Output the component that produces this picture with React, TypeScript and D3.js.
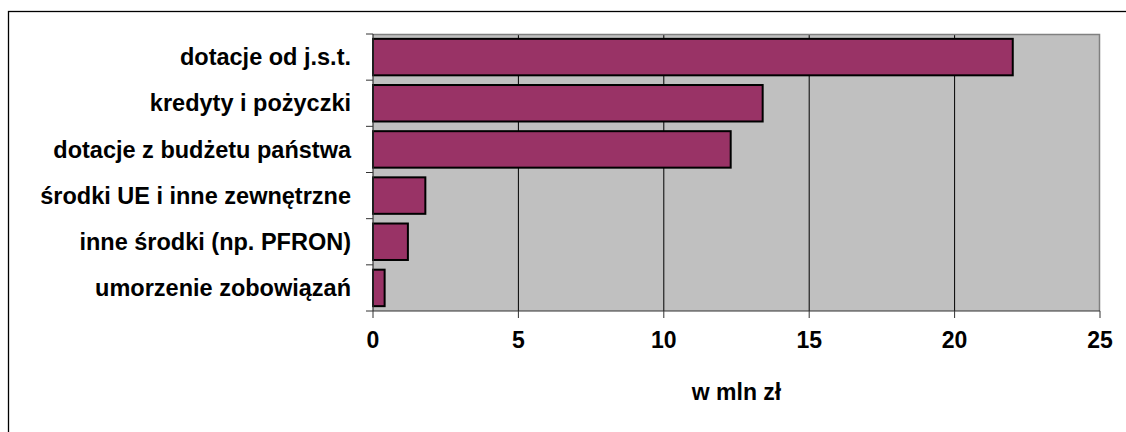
import * as d3 from 'd3'

const categories = [
  'dotacje od j.s.t.',
  'kredyty i pożyczki',
  'dotacje z budżetu państwa',
  'środki UE i inne zewnętrzne',
  'inne środki (np. PFRON)',
  'umorzenie zobowiązań',
]
const values = [22.0, 13.4, 12.3, 1.8, 1.2, 0.4]
const xTicks = [0, 5, 10, 15, 20, 25]

export default function App() {
  const width = 1126
  const height = 432
  const plot = { left: 373, right: 1100, top: 34, bottom: 311 }

  const x = d3.scaleLinear().domain([0, 25]).range([plot.left, plot.right])
  const y = d3
    .scaleBand()
    .domain(categories)
    .range([plot.top, plot.bottom])
    .paddingInner(0.21)
    .paddingOuter(0.105)
  const band = (plot.bottom - plot.top) / categories.length
  const font = '"Liberation Sans", Arial, sans-serif'

  return (
    <svg
      width={width}
      height={height}
      style={{ position: 'absolute', left: 0, top: 0, background: '#fff' }}
    >
      <rect x={8.5} y={11.5} width={1200} height={500} fill="#fff" stroke="#000" strokeWidth={1.3} />
      <rect
        x={plot.left}
        y={plot.top}
        width={plot.right - plot.left}
        height={plot.bottom - plot.top}
        fill="#c0c0c0"
      />
      {xTicks.slice(1, -1).map((t) => (
        <line key={t} x1={x(t)} x2={x(t)} y1={plot.top} y2={plot.bottom} stroke="#000" strokeWidth={1} />
      ))}
      <path
        d={`M${plot.left},${plot.top + 0.5}H${plot.right - 0.5}V${plot.bottom}`}
        fill="none"
        stroke="#808080"
        strokeWidth={1.5}
      />
      {categories.map((c, i) => (
        <rect
          key={c}
          x={x(0)}
          y={y(c)!}
          width={x(values[i]) - x(0)}
          height={y.bandwidth()}
          fill="#993366"
          stroke="#000"
          strokeWidth={2}
        />
      ))}
      {/* axes */}
      <line x1={plot.left} x2={plot.left} y1={plot.top} y2={plot.bottom} stroke="#333" strokeWidth={1.2} />
      <line x1={plot.left} x2={plot.right} y1={plot.bottom} y2={plot.bottom} stroke="#333" strokeWidth={1.2} />
      {d3.range(categories.length + 1).map((i) => (
        <line
          key={i}
          x1={plot.left - 7}
          x2={plot.left}
          y1={plot.top + i * band}
          y2={plot.top + i * band}
          stroke="#333"
          strokeWidth={1}
        />
      ))}
      {xTicks.map((t) => (
        <g key={t}>
          <line x1={x(t)} x2={x(t)} y1={plot.bottom} y2={plot.bottom + 7} stroke="#333" strokeWidth={1} />
          <text
            x={x(t)}
            y={340}
            dy="0.35em"
            textAnchor="middle"
            fontFamily={font}
            fontWeight="bold"
            fontSize={23}
            fill="#000"
          >
            {t}
          </text>
        </g>
      ))}
      {categories.map((c) => (
        <text
          key={c}
          x={351}
          y={y(c)! + y.bandwidth() / 2}
          dy="0.35em"
          textAnchor="end"
          fontFamily={font}
          fontWeight="bold"
          fontSize={23.5}
          fill="#000"
        >
          {c}
        </text>
      ))}
      <text
        x={(plot.left + plot.right) / 2}
        y={392}
        dy="0.35em"
        textAnchor="middle"
        fontFamily={font}
        fontWeight="bold"
        fontSize={23}
        fill="#000"
      >
        w mln zł
      </text>
    </svg>
  )
}
